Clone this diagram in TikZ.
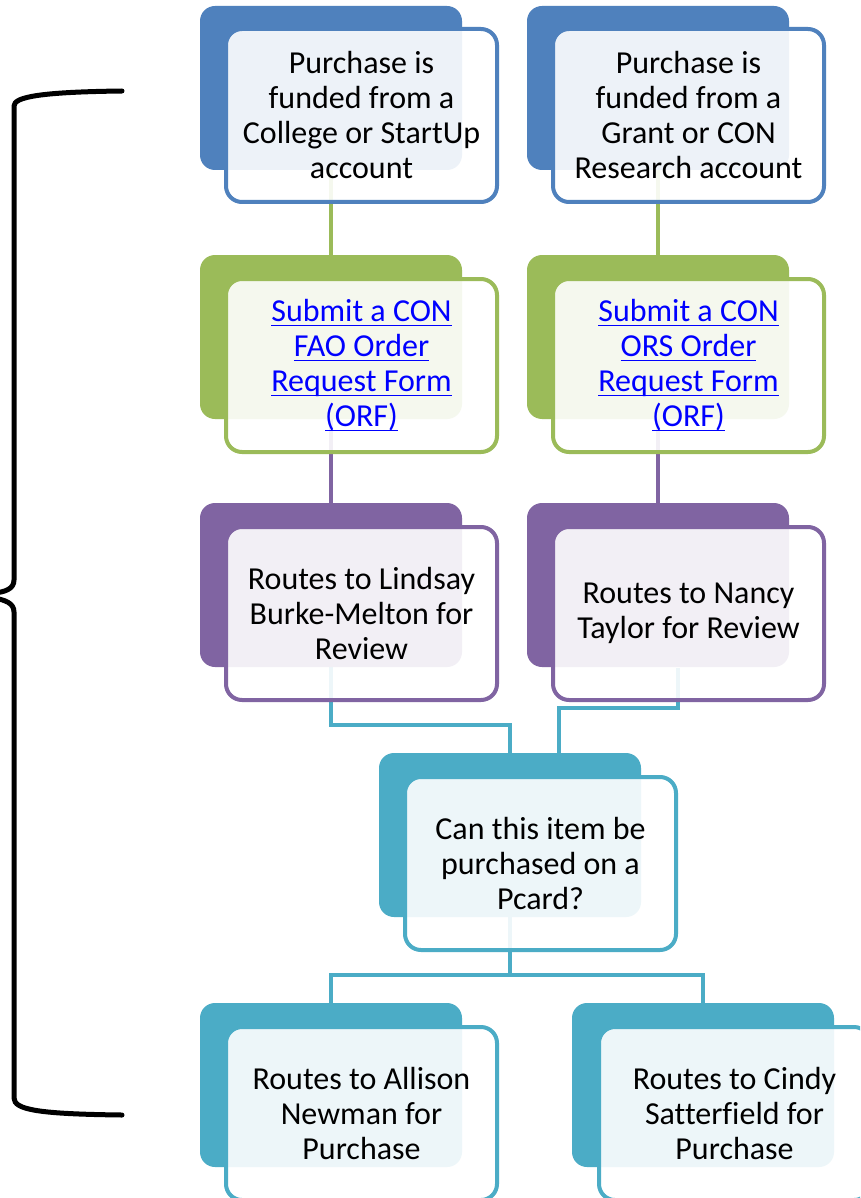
\documentclass[tikz,border=0pt]{standalone}
\usepackage{fontspec}
\setmainfont[Ligatures=NoCommon]{Carlito}
\usetikzlibrary{backgrounds}
\definecolor{cblue}{HTML}{4F81BD}
\definecolor{cgreen}{HTML}{9BBB59}
\definecolor{cpurple}{HTML}{8064A2}
\definecolor{cteal}{HTML}{4BACC6}
\definecolor{linkblue}{HTML}{0000FF}
\newcommand\ulink[1]{\leavevmode\setbox0=\hbox{#1}\rlap{\rule[-4.5pt]{\wd0}{1.6pt}}\box0}
\tikzset{
  backbox/.style={fill=#1, rounded corners=15pt, minimum width=262pt, minimum height=164pt,
    inner sep=0pt, outer sep=0pt, anchor=north west},
  frontbox/.style={draw=#1, line width=4pt, fill=white, fill opacity=0.9, text opacity=1,
    rounded corners=16pt, minimum width=271pt, minimum height=173pt, inner sep=0pt,
    outer sep=0pt, anchor=north west, align=center, font=\fontsize{32}{35}\selectfont},
  conn/.style={draw=#1, line width=4pt},
  bracestyle/.style={draw=black, line width=5pt, line cap=round},
  linktext/.style={text=linkblue},
}
\begin{document}
\begin{tikzpicture}[x=1pt,y=-1pt]
\useasboundingbox (0,0) rectangle (860,1198);
\clip (0,0) rectangle (860,1198);

% row 1
\node[backbox=cblue] (b1) at (200,6) {};
\node[frontbox=cblue] (f1) at (226,29) {Purchase is\\funded from a\\College or StartUp\\account};
\node[backbox=cblue] (b2) at (527,6) {};
\node[frontbox=cblue] (f2) at (553,29) {Purchase is\\funded from a\\Grant or CON\\Research account};

% row 2
\node[backbox=cgreen] (b3) at (200,255) {};
\node[frontbox=cgreen, linktext] (f3) at (226,279) {\ulink{Submit a CON}\\\ulink{FAO Order}\\\ulink{Request Form}\\\ulink{(ORF)}};
\node[backbox=cgreen] (b4) at (527,255) {};
\node[frontbox=cgreen, linktext] (f4) at (553,279) {\ulink{Submit a CON}\\\ulink{ORS Order}\\\ulink{Request Form}\\\ulink{(ORF)}};

% row 3
\node[backbox=cpurple] (b5) at (200,503) {};
\node[frontbox=cpurple] (f5) at (226,527) {Routes to Lindsay\\Burke-Melton for\\Review};
\node[backbox=cpurple] (b6) at (527,503) {};
\node[frontbox=cpurple] (f6) at (553,527) {Routes to Nancy\\Taylor for Review};

% row 4
\node[backbox=cteal] (b7) at (379,753) {};
\node[frontbox=cteal] (f7) at (405,777) {Can this item be\\purchased on a\\Pcard?};

% row 5
\node[backbox=cteal] (b8) at (200,1003) {};
\node[frontbox=cteal] (f8) at (226,1027) {Routes to Allison\\Newman for\\Purchase};
\node[backbox=cteal] (b9) at (572,1003) {};
\node[frontbox=cteal] (f9) at (599,1027) {Routes to Cindy\\Satterfield for\\Purchase};

% helper coordinates
\coordinate (m1) at (0,725);
\coordinate (m2) at (0,708);
\coordinate (m3) at (0,975);
\coordinate (r1) at (678,668);
\coordinate (r2) at (559,753);

\begin{scope}[on background layer]
  \fill[white] (0,0) rectangle (860,1198);
  \draw[conn=cgreen] (b1.south) -- (b3.north);
  \draw[conn=cgreen] (b2.south) -- (b4.north);
  \draw[conn=cpurple] (b3.south) -- (b5.north);
  \draw[conn=cpurple] (b4.south) -- (b6.north);
  \draw[conn=cteal] (b5.south) -- (b5.south |- m1) -| (b7.north);
  \draw[conn=cteal] (r1) -- (r1 |- m2) -| (r2);
  \draw[conn=cteal] (b7.south) -- (b7.south |- m3);
  \draw[conn=cteal] (b8.north) |- (b9.north |- m3) -- (b9.north);
\end{scope}

% brace
\coordinate (brA) at (122,91);
\coordinate (brB) at (14,106);
\coordinate (brC) at (14,580);
\coordinate (brTip1) at (-6,593);
\coordinate (brTip2) at (-6,598);
\coordinate (brD) at (14,612);
\coordinate (brE) at (14,1098);
\coordinate (brF) at (122,1115);
\draw[bracestyle] (brA) .. controls (40,92) and (14,97) .. (brB) -- (brC)
   .. controls (14,589) and (5,592) .. (brTip1);
\draw[bracestyle] (brTip2) .. controls (5,600) and (14,603) .. (brD) -- (brE)
   .. controls (14,1110) and (40,1114) .. (brF);
\end{tikzpicture}
\end{document}
